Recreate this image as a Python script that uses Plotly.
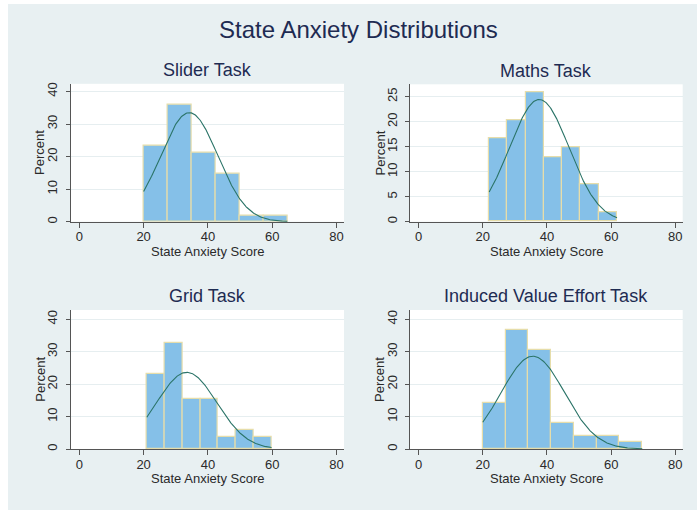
import numpy as np
import plotly.graph_objects as go

W, H = 697, 510

# ---- data ----
titles = ["Slider Task", "Maths Task", "Grid Task", "Induced Value Effort Task"]
bin_start = [20.0, 22.0, 21.0, 20.0]
bin_width = [7.45, 5.69, 5.54, 7.1]
slider_pct = [23.3, 35.9, 21.3, 14.6, 1.8, 1.8]
maths_pct = [16.67, 20.37, 25.93, 12.96, 14.81, 7.41, 1.85]
grid_pct = [23.08, 32.69, 15.38, 15.38, 3.85, 5.77, 3.85]
ive_pct = [14.29, 36.73, 30.61, 8.16, 4.08, 4.08, 2.04]
percents = [slider_pct, maths_pct, grid_pct, ive_pct]
norm_mean = [34.2, 37.6, 33.4, 35.6]
norm_sd = [8.87, 9.28, 9.35, 9.9]
x_ticks = [0, 20, 40, 60, 80]
y_ticks = [[0, 10, 20, 30, 40], [0, 5, 10, 15, 20, 25], [0, 10, 20, 30, 40], [0, 10, 20, 30, 40]]
y_max = [42.36, 27.5, 42.87, 42.87]

# ---- layout geometry (pixels) ----
panels = [
    dict(x0=70.7, x1=344.0, top=83.8, bot=221.7),
    dict(x0=410.0, x1=682.7, top=84.3, bot=221.7),
    dict(x0=70.7, x1=344.0, top=310.0, bot=449.0),
    dict(x0=410.0, x1=682.7, top=310.0, bot=449.0),
]
x_range = [-2.67, 82.3]

BG = "#E8F0F2"
BAR = "#85C0E8"
EDGE = "#E6DDAA"
CURVE = "#2B7468"
TITLE_C = "#1E2B52"
TXT = "#2A2A2A"
AX = "#555555"
FONT = "Liberation Sans, Arial, sans-serif"

fig = go.Figure()
annotations = []
layout_axes = {}

for i in range(4):
    p = panels[i]
    xa = "x" if i == 0 else f"x{i+1}"
    ya = "y" if i == 0 else f"y{i+1}"
    pct = percents[i]
    n = len(pct)
    lefts = [bin_start[i] + k * bin_width[i] for k in range(n)]
    fig.add_trace(go.Bar(
        x=lefts, y=pct, width=[bin_width[i]] * n, offset=0,
        marker=dict(color=BAR, line=dict(color=EDGE, width=1.2)),
        xaxis=xa, yaxis=ya, showlegend=False, hoverinfo="skip"))
    xs = np.linspace(bin_start[i], bin_start[i] + n * bin_width[i], 200)
    ys = 100 * bin_width[i] / (norm_sd[i] * np.sqrt(2 * np.pi)) * np.exp(-0.5 * ((xs - norm_mean[i]) / norm_sd[i]) ** 2)
    fig.add_trace(go.Scatter(
        x=xs, y=ys, mode="lines", line=dict(color=CURVE, width=1.1),
        xaxis=xa, yaxis=ya, showlegend=False, hoverinfo="skip"))

    dx = [p["x0"] / W, p["x1"] / W]
    dy = [(H - p["bot"]) / H, (H - p["top"]) / H]
    key_x = "xaxis" if i == 0 else f"xaxis{i+1}"
    key_y = "yaxis" if i == 0 else f"yaxis{i+1}"
    layout_axes[key_x] = dict(
        domain=dx, anchor=ya, range=x_range, tickmode="array", tickvals=x_ticks,
        ticks="outside", ticklen=5, tickcolor=AX, tickwidth=1, ticklabelstandoff=-2,
        showline=True, linecolor=AX, linewidth=1.3, showgrid=False, zeroline=False,
        tickfont=dict(family=FONT, size=13, color=TXT), fixedrange=True)
    layout_axes[key_y] = dict(
        domain=dy, anchor=xa, range=[0, y_max[i]], tickmode="array", tickvals=y_ticks[i],
        ticks="outside", ticklen=4, tickcolor=AX, tickwidth=1, tickangle=-90,
        ticklabelstandoff=3,
        showline=True, linecolor=AX, linewidth=1.3, showgrid=True, gridcolor="#E6EEF0",
        gridwidth=1, zeroline=False,
        tickfont=dict(family=FONT, size=13, color=TXT), fixedrange=True)

    cx = (p["x0"] + p["x1"]) / 2 / W
    # subplot title
    annotations.append(dict(text=titles[i], x=cx, y=(H - (p["top"] - 13.5)) / H, xref="paper", yref="paper",
                            showarrow=False, xanchor="center", yanchor="middle",
                            font=dict(family=FONT, size=18, color=TITLE_C)))
    # x axis title
    annotations.append(dict(text="State Anxiety Score", x=cx, y=(H - (p["bot"] + 29.5)) / H,
                            xref="paper", yref="paper", showarrow=False,
                            xanchor="center", yanchor="middle",
                            font=dict(family=FONT, size=13, color=TXT)))
    # y axis title
    annotations.append(dict(text="Percent", x=(p["x0"] - 30.5) / W, y=(H - (p["top"] + p["bot"]) / 2) / H,
                            xref="paper", yref="paper", showarrow=False, textangle=-90,
                            xanchor="center", yanchor="middle",
                            font=dict(family=FONT, size=13, color=TXT)))

annotations.append(dict(text="State Anxiety Distributions", x=358 / W, y=(H - 29) / H,
                        xref="paper", yref="paper", showarrow=False,
                        xanchor="center", yanchor="middle",
                        font=dict(family=FONT, size=24, color=TITLE_C)))

shapes = [
    dict(type="rect", xref="paper", yref="paper", x0=0, x1=8 / W, y0=0, y1=1,
         fillcolor="white", line=dict(width=0), layer="below"),
    dict(type="rect", xref="paper", yref="paper", x0=0, x1=1, y0=(H - 4) / H, y1=1,
         fillcolor="white", line=dict(width=0), layer="below"),
]

fig.update_layout(
    width=W, height=H, margin=dict(l=0, r=0, t=0, b=0, autoexpand=False),
    paper_bgcolor=BG, plot_bgcolor="white", bargap=0,
    annotations=annotations, shapes=shapes, showlegend=False,
    **layout_axes)

fig.write_html("out.html", config={"displayModeBar": False})
